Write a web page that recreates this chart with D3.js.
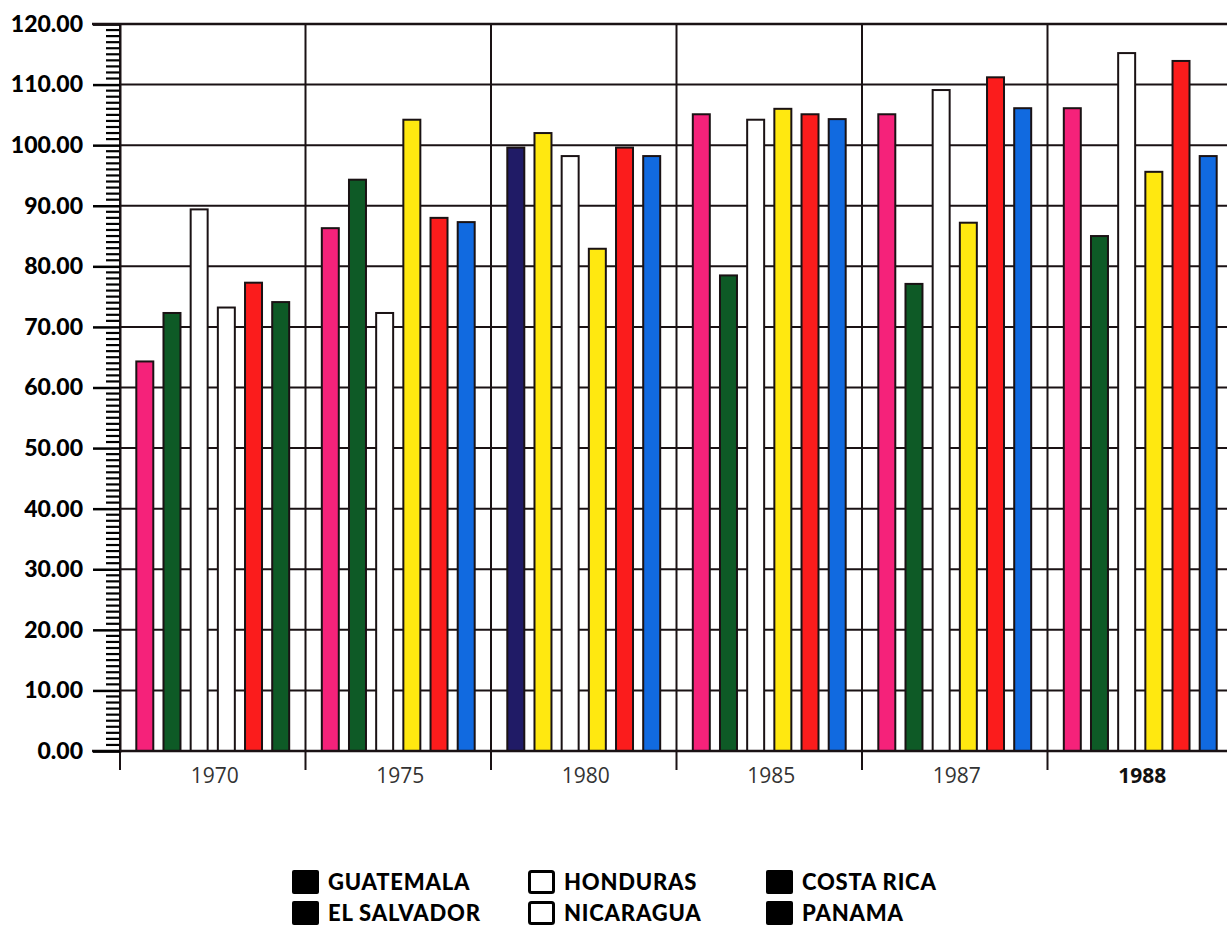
<!DOCTYPE html>
<html><head><meta charset="utf-8">
<script src="https://cdn.jsdelivr.net/npm/d3@7"></script>
<style>
html,body{margin:0;padding:0;background:#fff;}
svg{display:block;}
</style></head>
<body>
<svg id="c" width="1227" height="927"></svg>
<script>
// ---- data ----
const years = ["1970", "1975", "1980", "1985", "1987", "1988"];
const countries = ["GUATEMALA", "EL SALVADOR", "HONDURAS", "NICARAGUA", "COSTA RICA", "PANAMA"];
const guatemala  = [64.3, 86.3, 99.6, 105.1, 105.1, 106.1];
const elSalvador = [72.3, 94.3, 102.0, 78.5, 77.1, 85.0];
const honduras   = [89.4, 72.3, 98.2, 104.2, 109.1, 115.2];
const nicaragua  = [73.2, 104.2, 82.9, 106.0, 87.2, 95.6];
const costaRica  = [77.3, 88.0, 99.6, 105.1, 111.2, 113.9];
const panama     = [74.1, 87.3, 98.2, 104.3, 106.1, 98.2];
const yTicks = [0, 10, 20, 30, 40, 50, 60, 70, 80, 90, 100, 110, 120];

// ---- styles (bar fills per year group, as printed) ----
const PINK = "#f5227a", GREEN = "#0e5a26", WHITE = "#ffffff", YELLOW = "#ffe810",
      RED = "#fb1c1c", BLUE = "#116ae0", NAVY = "#201b66";
const barFills = [
  [PINK, GREEN, WHITE, WHITE, RED, GREEN],
  [PINK, GREEN, WHITE, YELLOW, RED, BLUE],
  [NAVY, YELLOW, WHITE, YELLOW, RED, BLUE],
  [PINK, GREEN, WHITE, YELLOW, RED, BLUE],
  [PINK, GREEN, WHITE, YELLOW, RED, BLUE],
  [PINK, GREEN, WHITE, YELLOW, RED, BLUE]
];
const legendFills = ["#000", "#000", "#fff", "#fff", "#000", "#000"];

const seriesValues = [guatemala, elSalvador, honduras, nicaragua, costaRica, panama];

const svg = d3.select("#c");
const mLeft = 120, mRight = 1233, mTop = 24, mBottom = 751;

const x = d3.scaleBand().domain(years).range([mLeft, mRight]).padding(0);
const xi = d3.scaleBand().domain(d3.range(countries.length))
  .range([0, x.bandwidth()]).paddingInner(0.375).paddingOuter(0.6);
const y = d3.scaleLinear().domain([0, 120]).range([mBottom, mTop]);

const ink = "#1a1214";

// horizontal gridlines
svg.append("g").selectAll("line").data(yTicks.filter(d => d > 0)).join("line")
  .attr("x1", mLeft).attr("x2", mRight)
  .attr("y1", d => y(d)).attr("y2", d => y(d))
  .attr("stroke", ink).attr("stroke-width", 2);

// vertical group lines (with tick extension below axis)
svg.append("g").selectAll("line").data(years.concat(["end"])).join("line")
  .attr("x1", (d, i) => i < years.length ? x(d) : mRight)
  .attr("x2", (d, i) => i < years.length ? x(d) : mRight)
  .attr("y1", mTop).attr("y2", mBottom + 19)
  .attr("stroke", ink).attr("stroke-width", 2);

// bars
const cells = [];
years.forEach((yr, gi) => seriesValues.forEach((vals, si) => {
  cells.push({ yr, gi, si, v: vals[gi] });
}));
svg.append("g").selectAll("rect").data(cells).join("rect")
  .attr("x", d => x(d.yr) + xi(d.si))
  .attr("width", xi.bandwidth())
  .attr("y", d => y(d.v))
  .attr("height", d => y(0) - y(d.v))
  .attr("fill", d => barFills[d.gi][d.si])
  .attr("stroke", ink).attr("stroke-width", 2);

// baseline
svg.append("line").attr("x1", mLeft - 28).attr("x2", mRight)
  .attr("y1", mBottom).attr("y2", mBottom).attr("stroke", ink).attr("stroke-width", 2.5);

// y axis with minor ticks
const yMinor = d3.range(0, 121, 1).filter(d => d % 10 !== 0);
svg.append("g").selectAll("line").data(yMinor).join("line")
  .attr("x1", mLeft - 14).attr("x2", mLeft)
  .attr("y1", d => y(d)).attr("y2", d => y(d))
  .attr("stroke", "#000").attr("stroke-width", 2.2);

const yAxis = d3.axisLeft(y).tickValues(yTicks).tickSize(27).tickPadding(10)
  .tickFormat(d3.format(".2f"));
const ya = svg.append("g").attr("transform", `translate(${mLeft},0)`).call(yAxis);
ya.select(".domain").attr("stroke", ink).attr("stroke-width", 2);
ya.selectAll(".tick line").attr("stroke", "#000").attr("stroke-width", 2.5);
ya.selectAll(".tick text").attr("fill", "#000")
  .style("font-family", "Lato, 'DejaVu Sans', sans-serif")
  .style("font-weight", "900").style("font-size", "23px").style("letter-spacing", "0px");

// top border
svg.append("line").attr("x1", mLeft - 28).attr("x2", mRight)
  .attr("y1", mTop).attr("y2", mTop).attr("stroke", ink).attr("stroke-width", 2.5);

// x labels
svg.append("g").selectAll("text").data(years).join("text")
  .attr("x", d => x(d) + x.bandwidth() / 2 + 2)
  .attr("y", 783)
  .attr("text-anchor", "middle")
  .style("font-family", "'Open Sans', Lato, sans-serif")
  .style("font-size", "21px")
  .style("font-weight", (d, i) => i === years.length - 1 ? "700" : "400")
  .attr("fill", (d, i) => i === years.length - 1 ? "#111" : "#333")
  .text(d => d);

// legend
const legCols = [292, 528, 766], legRows = [882, 913];
const leg = svg.append("g").selectAll("g").data(countries).join("g")
  .attr("transform", (d, i) => `translate(${legCols[Math.floor(i / 2)]},${legRows[i % 2]})`);
leg.append("rect")
  .attr("x", (d, i) => legendFills[i] === "#fff" ? 1.5 : 0)
  .attr("y", (d, i) => legendFills[i] === "#fff" ? -10.5 : -12)
  .attr("width", (d, i) => legendFills[i] === "#fff" ? 24 : 27)
  .attr("height", (d, i) => legendFills[i] === "#fff" ? 21 : 24)
  .attr("fill", (d, i) => legendFills[i])
  .attr("stroke", "#000").attr("stroke-width", (d, i) => legendFills[i] === "#fff" ? 3 : 0)
  .attr("rx", 2);
leg.append("text").attr("x", 36).attr("y", 8)
  .style("font-family", "Lato, 'DejaVu Sans', sans-serif")
  .style("font-weight", "900").style("font-size", "22px").style("letter-spacing", "0.8px")
  .attr("fill", "#000")
  .text(d => d);
</script>
</body></html>
